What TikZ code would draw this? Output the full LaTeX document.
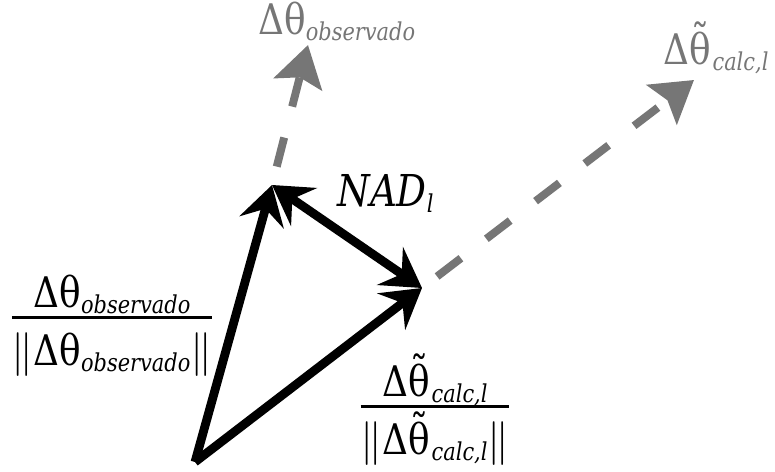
\documentclass[tikz,border=0pt]{standalone}
\usepackage{amsmath}
\usepackage{fontspec}
\setmainfont{DejaVu Serif}[FakeStretch=0.85]
\usetikzlibrary{arrows.meta}
\definecolor{projgray}{RGB}{118,118,118}
\newcommand{\subtxt}[1]{\raisebox{-0.25ex}{\fontsize{14}{14}\selectfont\itshape #1}}
\newcommand{\normbar}{\ensuremath{\|}}
\newcommand{\tth}{\accent"02DC θ\kern1pt}
\newcommand{\fracbox}[2]{{\setlength{\arrayrulewidth}{1.6pt}%
  \begin{tabular}[t]{@{}c@{}}#1\\[-4pt]\hline\rule{0pt}{27pt}#2\end{tabular}}}

\begin{document}
\begin{tikzpicture}[x=0.02cm,y=-0.02cm,font=\fontsize{24}{28}\selectfont,
  vec/.style={line width=5pt,-{Stealth[length=22pt,width=26pt,inset=8pt]}},
  nad/.style={line width=5pt,{Stealth[length=22pt,width=26pt,inset=8pt]}-{Stealth[length=22pt,width=26pt,inset=8pt]}},
  proj/.style={projgray,line width=4.5pt,dash pattern=on 0.6cm off 0.64cm,dash phase=0.86cm,
    -{Stealth[length=23pt,width=28pt,inset=4pt]}},
  lbl/.style={inner sep=0pt,anchor=base west}]
\useasboundingbox (0,0) rectangle (775,472);
% origin and unit vectors
\coordinate (O) at (195,462);
\coordinate (Aobs) at (272,185);
\coordinate (Bcalc) at (422,288);
% ends of the long vectors
\coordinate (Eobs) at (308,45);
\coordinate (Ecalc) at (694,80);

\draw[proj] (Aobs) -- (Eobs);
\draw[proj] (Bcalc) -- (Ecalc);
\draw[vec] (O) -- (Aobs);
\draw[vec] (O) -- (Bcalc);
\draw[nad] (Bcalc) -- (Aobs);

% labels
\node[lbl,projgray] (tobs) at (258,35) {Δθ\subtxt{observado}};
\node[lbl,projgray] (tcalc) at (663,65) {Δ\tth\subtxt{calc,l}};
\node[lbl,font=\fontsize{25}{28}\selectfont] (tnad) at (337,207) {\itshape NAD\subtxt{l}};
\node[inner sep=0pt,anchor=base] (fobs) at (112,308)
  {\fracbox{Δθ\subtxt{observado}}{\normbar Δθ\subtxt{observado}\normbar}};
\node[inner sep=0pt,anchor=base] (fcalc) at (435,397)
  {\fracbox{Δ\tth\subtxt{calc,l}}{\normbar Δ\tth\subtxt{calc,l}\normbar}};
\end{tikzpicture}
\end{document}
